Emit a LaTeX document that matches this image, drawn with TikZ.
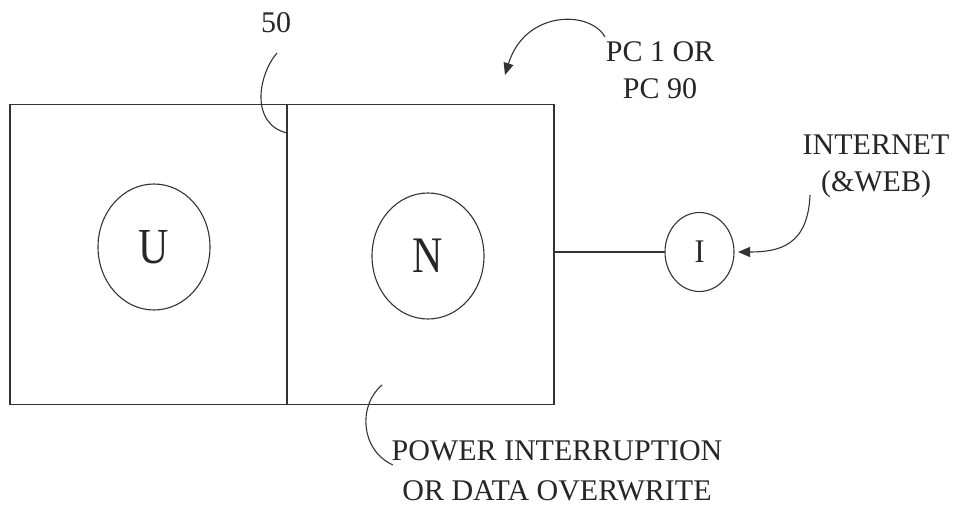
\documentclass[tikz,border=0pt]{standalone}
\usepackage{fontspec}
\usepackage{graphicx}
\setmainfont{Liberation Serif}
\usetikzlibrary{shapes.geometric,arrows.meta}
\begin{document}
\begin{tikzpicture}[x=1pt,y=-1pt,
  line/.style={draw=black!80,line width=1.1pt},
  box/.style={line,rectangle,inner sep=0pt,outer sep=0pt},
  oval/.style={line,ellipse,inner sep=0pt,outer sep=0pt,text=black!85},
  lbl/.style={font=\fontsize{30}{37}\selectfont,text=black!85,align=center,inner sep=0pt},
  tipped/.style={line,-{Triangle[length=12pt,width=10pt]}},
]
\useasboundingbox (0,0) rectangle (956,506);
% boxes
\node[box,minimum width=277pt,minimum height=300pt] (ubox) at (148.5,254.5) {};
\node[box,minimum width=267pt,minimum height=300pt] (nbox) at (420.5,254.5) {};
% ovals
\node[oval,minimum width=112pt,minimum height=126pt,font=\fontsize{42}{42}\selectfont] (u) at (154,247) {\scalebox{1}[1.2]{U}};
\node[oval,minimum width=112pt,minimum height=126pt,font=\fontsize{42}{42}\selectfont] (n) at (428,256) {\scalebox{1}[1.22]{N}};
\node[oval,minimum width=69pt,minimum height=79pt,font=\fontsize{30}{30}\selectfont] (i) at (699.5,252) {\scalebox{1}[1.1]{I}};
% connector
\draw[line] (i.west -| nbox.east) -- (i.west);
% labels
\node[lbl] (l50) at (276,23) {50};
\node[lbl] (pc) at (660,70.5) {PC 1 OR\\PC 90};
\node[lbl] (inet) at (876,166.5) {INTERNET\\(\&WEB)};
\node[lbl,font=\fontsize{30}{40}\selectfont] (pw) at (557,471) {POWER INTERRUPTION\\OR DATA OVERWRITE};
% leader / arrow end points
\coordinate (a50) at (277,53);
\coordinate (b50) at (287,133);
\coordinate (apc) at (605,37);
\coordinate (bpc) at (505,75);
\coordinate (ain) at (810,195);
\coordinate (bin) at (738,252);
\coordinate (apw) at (382,385);
\coordinate (bpw) at (393,465);
% leaders
\draw[line] (a50) .. controls (258,75) and (250,124) .. (b50);
\draw[tipped] (apc) .. controls (590,10) and (525,10) .. (bpc);
\draw[tipped] (ain) .. controls (808,245) and (780,252) .. (bin);
\draw[line] (apw) .. controls (358,405) and (360,450) .. (bpw);
\end{tikzpicture}
\end{document}
